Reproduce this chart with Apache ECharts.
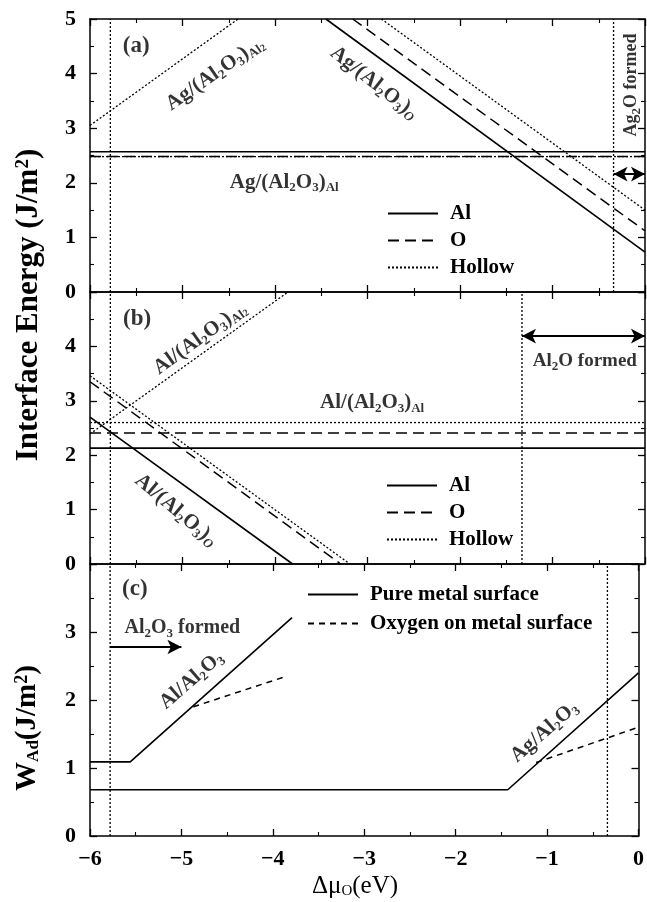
<!DOCTYPE html>
<html><head><meta charset="utf-8">
<script src="https://cdn.jsdelivr.net/npm/echarts@6/dist/echarts.min.js"></script>
<style>html,body{margin:0;padding:0;background:#fff}#c{width:647px;height:902px}</style>
</head><body><div id="c"></div>
<script>
const FONT = "'Liberation Serif','Times New Roman',serif";

// ---------- data ----------
const xTicks = [-6, -5, -4, -3, -2, -1, 0];
const yMaxA = 5, yMaxB = 5, yMaxC = 4;
// panel (a) : Ag/Al2O3 interface energies
const aAlFlat = [[-6, 2.57], [0, 2.57]];
const aOFlat = [[-6, 2.48], [0, 2.48]];
const aHollowFlat = [[-6, 2.48], [0, 2.48]];
const aAlO = [[-3.45, 5], [0, 0.73]];
const aOO = [[-3.16, 5], [0, 1.12]];
const aHollowO = [[-2.85, 5], [0, 1.50]];
const aHollowAl2 = [[-6, 3.05], [-4.40, 5]];
const aVerticals = [-5.78, -0.34];
const aArrow = [[-0.34, 2.16], [0, 2.16]];
// panel (b) : Al/Al2O3 interface energies
const bAlFlat = [[-6, 2.13], [0, 2.13]];
const bOFlat = [[-6, 2.41], [0, 2.41]];
const bHollowFlat = [[-6, 2.60], [0, 2.60]];
const bAlO = [[-6, 2.70], [-3.81, 0]];
const bOO = [[-6, 3.35], [-3.29, 0]];
const bHollowO = [[-6, 3.46], [-3.19, 0]];
const bHollowAl2 = [[-6, 2.39], [-3.86, 5]];
const bVerticals = [-5.78, -1.33];
const bArrow = [[-1.33, 4.19], [0, 4.19]];
// panel (c) : work of adhesion
const cAlPure = [[-6, 1.09], [-5.56, 1.09], [-3.79, 3.21]];
const cAlOxy = [[-4.87, 1.90], [-3.85, 2.35]];
const cAgPure = [[-6, 0.68], [-1.43, 0.68], [0, 2.40]];
const cAgOxy = [[-1.12, 1.08], [0, 1.60]];
const cVerticals = [-5.78, -0.34];
const cArrow = [[-5.78, 2.78], [-5.0, 2.78]];

// ---------- styles ----------
const SOLID = {color: '#000', width: 1.6, type: 'solid'};
const DASH = {color: '#000', width: 1.5, type: [11, 6]};
const DOT = {color: '#000', width: 1.3, type: [2, 2]};
const CDASH = {color: '#000', width: 1.5, type: [6, 5]};

const subRich = {
  s: {fontFamily: FONT, fontWeight: 'bold', fontSize: 13, verticalAlign: 'bottom', lineHeight: 10, color: '#000'},
  si: {fontFamily: FONT, fontWeight: 'bold', fontStyle: 'italic', fontSize: 13, verticalAlign: 'bottom', lineHeight: 10, color: '#000'},
  ss: {fontFamily: FONT, fontWeight: 'bold', fontSize: 10, verticalAlign: 'bottom', lineHeight: 4, color: '#000'}
};

// annotation layout (positions in data units)
const annA = [
  {pos: [-5.50, 4.51], text: '(a)', rot: 0, size: 23},
  {pos: [-4.65, 4.00], text: 'Ag/(Al{s|2}O{s|3}){s|Al}{ss|2}', rot: 35},
  {pos: [-2.93, 3.83], text: 'Ag/(Al{s|2}O{s|3}){si|O}', rot: -38},
  {pos: [-3.90, 2.01], text: 'Ag/(Al{s|2}O{s|3}){s|Al}', rot: 0},
  {pos: [-0.15, 3.79], text: 'Ag{s|2}O formed', rot: 90, size: 18}
];
const annB = [
  {pos: [-5.49, 4.51], text: '(b)', rot: 0, size: 23},
  {pos: [-4.81, 4.15], text: 'Al/(Al{s|2}O{s|3}){s|Al}{ss|2}', rot: 36},
  {pos: [-2.95, 2.96], text: 'Al/(Al{s|2}O{s|3}){s|Al}', rot: 0},
  {pos: [-5.07, 0.99], text: 'Al/(Al{s|2}O{s|3}){si|O}', rot: -40},
  {pos: [-0.65, 3.73], text: 'Al{s|2}O formed', rot: 0, size: 19}
];
const annC = [
  {pos: [-5.51, 3.63], text: '(c)', rot: 0, size: 23},
  {pos: [-4.99, 3.06], text: 'Al{s|2}O{s|3} formed', rot: 0, size: 20},
  {pos: [-4.89, 2.29], text: 'Al/Al{s|2}O{s|3}', rot: 41},
  {pos: [-1.03, 1.53], text: 'Ag/Al{s|2}O{s|3}', rot: 41}
];

// ---------- layout ----------
const GL = 90, GW = 555;
const grids = [
  {left: GL, width: GW, top: 19, height: 273},
  {left: GL, width: GW, top: 292, height: 272},
  {left: GL, width: GW, top: 564, height: 272}
];
const yMaxes = [yMaxA, yMaxB, yMaxC];

const fmtX = v => (v < 0 ? '\u2212' + Math.abs(v) : String(v));

const xAxes = [], yAxes = [];
grids.forEach((g, gi) => {
  const axCommon = {
    gridIndex: gi, type: 'value',
    axisLine: {onZero: false, lineStyle: {color: '#000', width: 1.5}},
    axisTick: {inside: true, length: 7, lineStyle: {color: '#000', width: 1.3}},
    minorTick: {show: true, splitNumber: 2, length: 4, lineStyle: {color: '#000', width: 1.1}},
    splitLine: {show: false}, minorSplitLine: {show: false}
  };
  xAxes.push(Object.assign({}, axCommon, {
    position: 'bottom', min: xTicks[0], max: xTicks[xTicks.length - 1], interval: 1,
    axisLabel: {show: gi === 2, margin: 12, fontFamily: FONT, fontWeight: 'bold', fontSize: 22, color: '#000', formatter: fmtX}
  }));
  xAxes.push(Object.assign({}, axCommon, {
    position: 'top', min: xTicks[0], max: xTicks[xTicks.length - 1], interval: 1,
    axisLabel: {show: false}
  }));
  const ym = yMaxes[gi];
  yAxes.push(Object.assign({}, axCommon, {
    position: 'left', min: 0, max: ym, interval: 1,
    axisLabel: {show: true, margin: 14, fontFamily: FONT, fontWeight: 'bold', fontSize: 22, color: '#000',
      formatter: v => (gi > 0 && v === ym ? '' : String(v))}
  }));
  yAxes.push(Object.assign({}, axCommon, {
    position: 'right', min: 0, max: ym, interval: 1, axisLabel: {show: false}
  }));
});

const series = [];
function ln(name, data, gi, style) {
  series.push({type: 'line', name: name, data: data, xAxisIndex: 2 * gi, yAxisIndex: 2 * gi,
    symbol: 'none', silent: true, lineStyle: style, color: '#000',
    itemStyle: {color: '#000', opacity: 0}, z: 3});
}
function vlines(xs, gi) {
  xs.forEach(x => ln('vline', [[x, 0], [x, yMaxes[gi]]], gi, DOT));
}
function arrow(pts, gi, both) {
  series.push({type: 'line', name: 'arrow', data: pts, xAxisIndex: 2 * gi, yAxisIndex: 2 * gi,
    symbol: 'none', silent: true, lineStyle: {opacity: 0},
    markLine: {silent: true, animation: false, symbol: [both ? 'arrow' : 'none', 'arrow'], symbolSize: [11, 14],
      label: {show: false}, lineStyle: {color: '#000', width: 2, type: 'solid'},
      data: [[{coord: pts[0]}, {coord: pts[1]}]]}});
}
function annotations(list, gi) {
  series.push({type: 'scatter', name: 'ann', xAxisIndex: 2 * gi, yAxisIndex: 2 * gi, symbolSize: 0, silent: true, z: 5,
    data: list.map(a => ({value: a.pos, label: {
      show: true, position: 'inside', rotate: a.rot, formatter: a.text, align: 'center', verticalAlign: 'middle',
      fontFamily: FONT, fontWeight: 'bold', fontSize: a.size || 21, lineHeight: 24, color: '#000', rich: subRich}}))});
}

// panel a
ln('Al', aAlFlat, 0, SOLID);
ln('O', aOFlat, 0, DASH);
ln('Hollow', aHollowFlat, 0, DOT);
ln('Al', aAlO, 0, SOLID);
ln('O', aOO, 0, DASH);
ln('Hollow', aHollowO, 0, DOT);
ln('Hollow', aHollowAl2, 0, DOT);
vlines(aVerticals, 0);
arrow(aArrow, 0, true);
annotations(annA, 0);
// panel b
ln('Al', bAlFlat, 1, SOLID);
ln('O', bOFlat, 1, DASH);
ln('Hollow', bHollowFlat, 1, DOT);
ln('Al', bAlO, 1, SOLID);
ln('O', bOO, 1, DASH);
ln('Hollow', bHollowO, 1, DOT);
ln('Hollow', bHollowAl2, 1, DOT);
vlines(bVerticals, 1);
arrow(bArrow, 1, true);
annotations(annB, 1);
// panel c
ln('Pure metal surface', cAlPure, 2, SOLID);
ln('Oxygen on metal surface', cAlOxy, 2, CDASH);
ln('Pure metal surface', cAgPure, 2, SOLID);
ln('Oxygen on metal surface', cAgOxy, 2, CDASH);
vlines(cVerticals, 2);
arrow(cArrow, 2, false);
annotations(annC, 2);

const legendText = {fontFamily: FONT, fontWeight: 'bold', fontSize: 21, color: '#000', padding: [0, 0, 0, 7]};
const legendBase = {orient: 'vertical', itemWidth: 50, itemHeight: 20, selectedMode: false, textStyle: legendText,
  padding: 0, itemStyle: {opacity: 0, borderWidth: 0}};

const option = {
  animation: false,
  backgroundColor: '#fff',
  grid: grids,
  xAxis: xAxes,
  yAxis: yAxes,
  legend: [
    Object.assign({}, legendBase, {data: ['Al', 'O', 'Hollow'], left: 387, top: 203, itemGap: 6}),
    Object.assign({}, legendBase, {data: ['Al', 'O', 'Hollow'], left: 386, top: 475, itemGap: 6}),
    Object.assign({}, legendBase, {data: ['Pure metal surface', 'Oxygen on metal surface'], left: 307, top: 584, itemGap: 8})
  ],
  graphic: [
    {type: 'text', x: 29, y: 305, rotation: Math.PI / 2, silent: true,
      style: {text: 'Interface Energy (J/m{sup|2})', fontFamily: FONT, fontWeight: 'bold', fontSize: 31, fill: '#000',
        align: 'center', verticalAlign: 'middle', textAlign: 'center', textVerticalAlign: 'middle',
        rich: {sup: {fontFamily: FONT, fontWeight: 'bold', fontSize: 19, verticalAlign: 'top', lineHeight: 12, fill: '#000', color: '#000'}}}},
    {type: 'text', x: 28, y: 728, rotation: Math.PI / 2, silent: true,
      style: {text: 'W{s|Ad}(J/m{sup|2})', fontFamily: FONT, fontWeight: 'bold', fontSize: 29, fill: '#000',
        align: 'center', verticalAlign: 'middle', textAlign: 'center', textVerticalAlign: 'middle',
        rich: {s: {fontFamily: FONT, fontWeight: 'bold', fontSize: 17, verticalAlign: 'bottom', lineHeight: 12, fill: '#000', color: '#000'},
          sup: {fontFamily: FONT, fontWeight: 'bold', fontSize: 18, verticalAlign: 'top', lineHeight: 12, fill: '#000', color: '#000'}}}},
    {type: 'text', x: 355, y: 886, silent: true,
      style: {text: '\u0394\u03bc{s|O}(eV)', fontFamily: FONT, fontSize: 25, fill: '#000',
        align: 'center', verticalAlign: 'middle', textAlign: 'center', textVerticalAlign: 'middle',
        rich: {s: {fontFamily: FONT, fontSize: 15, verticalAlign: 'bottom', lineHeight: 12, fill: '#000', color: '#000'}}}}
  ],
  series: series
};

const chart = echarts.init(document.getElementById('c'));
chart.setOption(option);
</script>
</body></html>
